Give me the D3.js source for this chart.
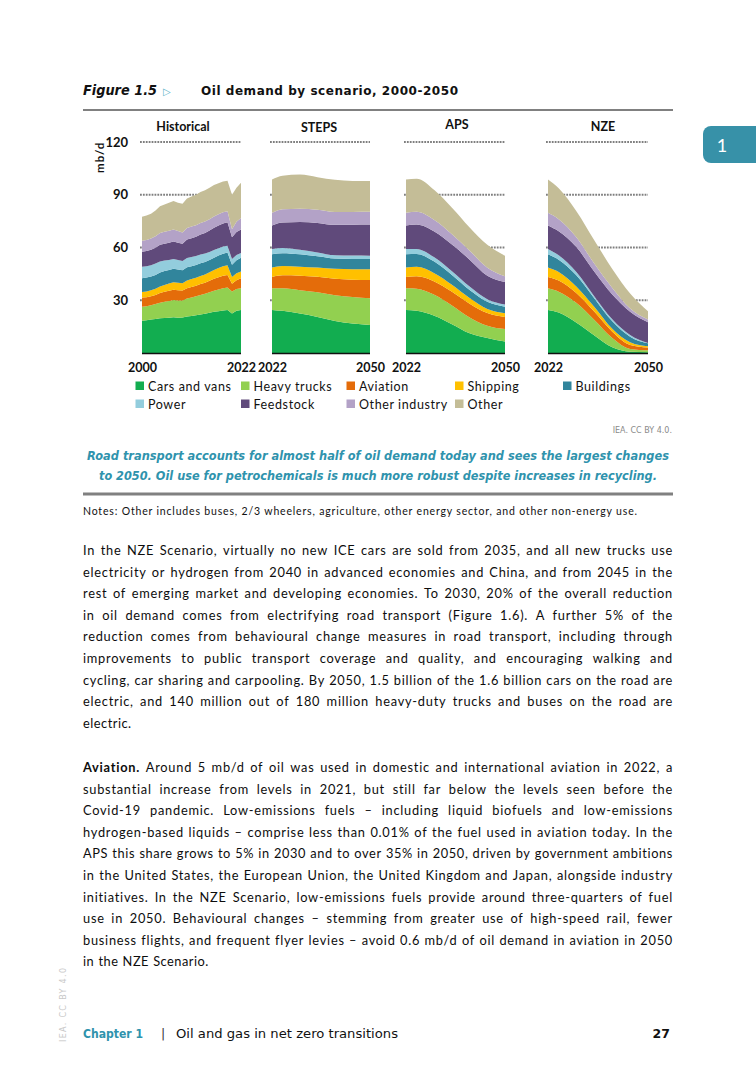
<!DOCTYPE html>
<html>
<head>
<meta charset="utf-8">
<script src="https://cdn.jsdelivr.net/npm/d3@7"></script>
<style>
  body { margin: 0; background: #fff; }
  svg { display: block; }
</style>
</head>
<body>
<svg id="page" width="756" height="1087"></svg>
<script>
// series, bottom to top
const seriesNames = ["Cars and vans", "Heavy trucks", "Aviation", "Shipping", "Buildings",
  "Power", "Feedstock", "Other industry", "Other"];
const seriesColors = ["#12ad50", "#92d050", "#e46c0a", "#ffc000", "#31859c",
  "#93cddd", "#604a7b", "#b3a2c7", "#c4bd97"];

// mb/d, columns: year, then one value per series in the order above
const historical = [
  [2000, 18.4, 7.9, 5.2, 3.2, 7.8, 6.6, 8.5, 6.3, 13.6],
  [2001, 18.6, 8.0, 5.1, 3.3, 7.9, 6.5, 8.6, 6.3, 13.9],
  [2002, 19.0, 8.2, 5.1, 3.4, 7.8, 6.4, 8.8, 6.4, 14.1],
  [2003, 19.3, 8.5, 5.2, 3.5, 7.9, 6.5, 9.0, 6.5, 14.6],
  [2004, 19.7, 8.9, 5.5, 3.7, 8.0, 6.3, 9.4, 6.7, 15.3],
  [2005, 19.9, 9.2, 5.7, 3.9, 7.9, 6.0, 9.6, 6.8, 15.5],
  [2006, 20.1, 9.5, 5.8, 4.1, 7.7, 5.7, 9.8, 6.8, 15.9],
  [2007, 20.3, 9.8, 5.9, 4.3, 7.6, 5.5, 10.0, 6.9, 16.2],
  [2008, 20.0, 9.9, 5.8, 4.3, 7.5, 5.4, 9.8, 6.7, 16.1],
  [2009, 20.2, 9.7, 5.6, 4.1, 7.4, 5.3, 9.9, 6.4, 16.3],
  [2010, 20.8, 10.2, 5.8, 4.4, 7.5, 5.3, 10.5, 6.6, 16.8],
  [2011, 21.1, 10.5, 6.0, 4.5, 7.3, 5.2, 10.7, 6.6, 17.1],
  [2012, 21.5, 10.8, 6.0, 4.5, 7.2, 5.2, 10.9, 6.6, 17.3],
  [2013, 21.9, 11.1, 6.2, 4.6, 7.2, 5.0, 11.4, 6.6, 17.5],
  [2014, 22.3, 11.4, 6.3, 4.7, 7.1, 4.8, 11.7, 6.5, 17.7],
  [2015, 22.9, 11.7, 6.5, 4.8, 7.0, 4.6, 12.1, 6.5, 17.9],
  [2016, 23.4, 12.0, 6.8, 5.0, 7.0, 4.4, 12.6, 6.4, 17.9],
  [2017, 23.8, 12.3, 7.0, 5.2, 7.1, 4.2, 12.9, 6.4, 17.6],
  [2018, 24.2, 12.6, 7.2, 5.4, 7.1, 4.0, 13.2, 6.4, 17.4],
  [2019, 24.5, 12.8, 7.1, 5.5, 7.2, 3.9, 13.3, 6.3, 17.4],
  [2020, 22.5, 12.5, 4.4, 3.8, 7.0, 3.2, 12.4, 4.6, 19.6],
  [2021, 24.0, 12.4, 5.0, 4.0, 7.4, 3.0, 13.0, 5.8, 19.4],
  [2022, 24.5, 12.3, 5.7, 3.9, 7.7, 2.8, 13.3, 6.6, 20.0]
];

const steps = [
  [2022, 24.5, 12.3, 6.4, 5.4, 7.6, 3.0, 13.3, 7.2, 19.0],
  [2025, 24.0, 12.8, 7.4, 5.3, 7.3, 2.9, 14.5, 7.6, 19.0],
  [2030, 22.4, 13.3, 8.3, 5.1, 7.0, 2.6, 15.8, 7.6, 19.4],
  [2035, 20.5, 14.0, 8.8, 5.3, 6.4, 2.2, 16.8, 7.5, 18.5],
  [2040, 18.2, 14.7, 9.3, 5.7, 5.8, 1.9, 17.3, 7.3, 18.3],
  [2045, 16.8, 15.0, 9.9, 6.0, 5.8, 1.9, 17.6, 7.2, 17.6],
  [2050, 15.9, 15.2, 10.4, 6.2, 5.7, 1.9, 17.8, 7.2, 17.5]
];

const aps = [
  [2022, 24.5, 12.3, 6.4, 5.4, 7.6, 3.0, 13.3, 7.2, 19.0],
  [2025, 24.0, 12.6, 7.0, 5.4, 7.3, 2.8, 14.0, 7.2, 18.8],
  [2030, 21.2, 11.9, 7.6, 4.7, 6.6, 2.4, 14.7, 6.6, 17.0],
  [2035, 16.4, 10.6, 7.8, 4.0, 5.6, 2.1, 15.2, 5.9, 15.0],
  [2040, 11.2, 9.0, 7.8, 3.3, 4.6, 1.9, 15.3, 5.1, 13.2],
  [2045, 8.5, 7.0, 7.2, 2.3, 4.1, 1.5, 13.4, 4.5, 13.0],
  [2050, 6.5, 7.1, 6.9, 2.1, 3.7, 1.3, 12.8, 3.2, 11.7]
];

const nze = [
  [2022, 24.5, 12.3, 6.4, 5.4, 7.6, 3.0, 13.3, 7.2, 19.0],
  [2025, 23.0, 11.9, 6.3, 4.9, 7.0, 2.5, 13.6, 6.9, 17.6],
  [2030, 17.2, 11.2, 5.6, 3.7, 6.4, 1.8, 14.2, 5.6, 14.8],
  [2035, 10.0, 8.8, 4.6, 2.8, 4.8, 1.2, 14.0, 4.5, 13.3],
  [2040, 3.2, 5.3, 3.6, 1.7, 4.2, 1.2, 14.1, 3.7, 10.8],
  [2045, 0.7, 1.6, 2.3, 1.5, 3.2, 0.9, 13.3, 1.8, 8.5],
  [2050, 0.4, 1.1, 1.6, 0.7, 1.7, 0.2, 11.8, 1.5, 4.7]
];

const yTicks = [30, 60, 90, 120];

const para1 = [
  "In the NZE Scenario, virtually no new ICE cars are sold from 2035, and all new trucks use",
  "electricity or hydrogen from 2040 in advanced economies and China, and from 2045 in the",
  "rest of emerging market and developing economies. To 2030, 20% of the overall reduction",
  "in oil demand comes from electrifying road transport (Figure 1.6). A further 5% of the",
  "reduction comes from behavioural change measures in road transport, including through",
  "improvements to public transport coverage and quality, and encouraging walking and",
  "cycling, car sharing and carpooling. By 2050, 1.5 billion of the 1.6 billion cars on the road are",
  "electric, and 140 million out of 180 million heavy-duty trucks and buses on the road are",
  "electric."
];
const para2 = [
  "Aviation. Around 5 mb/d of oil was used in domestic and international aviation in 2022, a",
  "substantial increase from levels in 2021, but still far below the levels seen before the",
  "Covid-19 pandemic. Low-emissions fuels – including liquid biofuels and low-emissions",
  "hydrogen-based liquids – comprise less than 0.01% of the fuel used in aviation today. In the",
  "APS this share grows to 5% in 2030 and to over 35% in 2050, driven by government ambitions",
  "in the United States, the European Union, the United Kingdom and Japan, alongside industry",
  "initiatives. In the NZE Scenario, low-emissions fuels provide around three-quarters of fuel",
  "use in 2050. Behavioural changes – stemming from greater use of high-speed rail, fewer",
  "business flights, and frequent flyer levies – avoid 0.6 mb/d of oil demand in aviation in 2050",
  "in the NZE Scenario."
];

const chartFont = "Lato, 'Open Sans', sans-serif";
const headFont = "'DejaVu Sans', Lato, sans-serif";
const teal = "#2f93ad";

const svg = d3.select("#page");
svg.append("rect").attr("width", 756).attr("height", 1087).attr("fill", "#fff");

// ---- heading ----
svg.append("text")
  .attr("x", 83).attr("y", 95)
  .attr("font-family", headFont).attr("font-weight", 700).attr("font-style", "italic")
  .attr("font-size", 13.5).attr("fill", "#111")
  .attr("textLength", 74).attr("lengthAdjust", "spacingAndGlyphs")
  .text("Figure 1.5");
svg.append("text")
  .attr("x", 163).attr("y", 95)
  .attr("font-family", headFont).attr("font-size", 10).attr("fill", "#5fb3c9")
  .text("▷");
svg.append("text")
  .attr("x", 201).attr("y", 95)
  .attr("font-family", headFont).attr("font-weight", 700)
  .attr("font-size", 12).attr("fill", "#111")
  .attr("textLength", 257).attr("lengthAdjust", "spacing")
  .text("Oil demand by scenario, 2000-2050");
svg.append("line")
  .attr("x1", 83).attr("x2", 673).attr("y1", 110).attr("y2", 110)
  .attr("stroke", "#808080").attr("stroke-width", 2);

// ---- chart ----
const y = d3.scaleLinear().domain([0, 120]).range([353, 142]);

const panels = [
  { title: "Historical", rows: historical, x0: 142, x1: 241, titleX: 183, titleY: 131, curve: d3.curveLinear },
  { title: "STEPS", rows: steps, x0: 272, x1: 370, titleX: 319, titleY: 132, curve: d3.curveMonotoneX },
  { title: "APS", rows: aps, x0: 406, x1: 505, titleX: 457, titleY: 129, curve: d3.curveMonotoneX },
  { title: "NZE", rows: nze, x0: 548, x1: 648, titleX: 603, titleY: 131, curve: d3.curveMonotoneX }
];

const stack = d3.stack().keys(d3.range(seriesNames.length));

panels.forEach(p => {
  const years = p.rows.map(r => r[0]);
  const x = d3.scaleLinear().domain(d3.extent(years)).range([p.x0, p.x1]);
  const g = svg.append("g");

  // dotted gridlines
  g.selectAll("line.grid")
    .data(yTicks)
    .join("line")
    .attr("class", "grid")
    .attr("x1", p.x0 - 2).attr("x2", p.x1)
    .attr("y1", d => y(d)).attr("y2", d => y(d))
    .attr("stroke", "#7f7f7f").attr("stroke-width", 2)
    .attr("stroke-dasharray", "1.8,1.1");

  const data = p.rows.map(r => Object.assign({ year: r[0] }, r.slice(1)));
  const layers = stack(data);
  const area = d3.area()
    .curve(p.curve)
    .x(d => x(d.data.year))
    .y0(d => y(d[0]))
    .y1(d => y(d[1]));

  g.selectAll("path.layer")
    .data(layers)
    .join("path")
    .attr("class", "layer")
    .attr("fill", (d, i) => seriesColors[i])
    .attr("d", area);

  // baseline
  g.append("line")
    .attr("x1", p.x0).attr("x2", p.x1)
    .attr("y1", y(0) + 0.5).attr("y2", y(0) + 0.5)
    .attr("stroke", "#111").attr("stroke-width", 1.3);

  // x axis: first and last year only
  const xAxis = d3.axisBottom(x).tickValues(d3.extent(years)).tickFormat(d3.format("d")).tickSize(0).tickPadding(10);
  const ax = g.append("g").attr("transform", `translate(0,${y(0)})`).call(xAxis);
  ax.select(".domain").remove();
  ax.selectAll("text")
    .attr("font-family", chartFont).attr("font-weight", 700)
    .attr("font-size", 12.5).attr("fill", "#111");

  g.append("text")
    .attr("x", p.titleX)
    .attr("y", p.titleY)
    .attr("text-anchor", "middle")
    .attr("font-family", chartFont).attr("font-weight", 700)
    .attr("font-size", 12.5).attr("fill", "#111")
    .text(p.title);
});

// y axis
const yAxis = d3.axisLeft(y).tickValues(yTicks).tickSize(0).tickPadding(0);
const yg = svg.append("g").attr("transform", "translate(128,0)").call(yAxis);
yg.select(".domain").remove();
yg.selectAll("text")
  .attr("font-family", chartFont).attr("font-weight", 700)
  .attr("font-size", 13).attr("fill", "#111");

svg.append("text")
  .attr("transform", "translate(104,173) rotate(-90)")
  .attr("text-anchor", "start")
  .attr("font-family", chartFont).attr("font-weight", 700)
  .attr("font-size", 11.5).attr("letter-spacing", 1).attr("fill", "#111")
  .text("mb/d");

// legend
const legendCols = [135.5, 241, 346.5, 455, 563];
const legend = svg.append("g").selectAll("g")
  .data(seriesNames)
  .join("g")
  .attr("transform", (d, i) => `translate(${legendCols[i % 5]},${i < 5 ? 381.5 : 399.5})`);
legend.append("rect")
  .attr("width", 8.5).attr("height", 8.5)
  .attr("fill", (d, i) => seriesColors[i]);
legend.append("text")
  .attr("x", 12.5).attr("y", 9)
  .attr("font-family", chartFont).attr("font-size", 12.5)
  .attr("letter-spacing", 0.6).attr("fill", "#111")
  .text(d => d);

svg.append("text")
  .attr("x", 672).attr("y", 433).attr("text-anchor", "end")
  .attr("font-family", "'DejaVu Sans', sans-serif").attr("font-size", 8)
  .attr("fill", "#8a8a8a")
  .text("IEA. CC BY 4.0.");

// caption
const captionLines = [
  { t: "Road transport accounts for almost half of oil demand today and sees the largest changes", y: 460, w: 582 },
  { t: "to 2050. Oil use for petrochemicals is much more robust despite increases in recycling.", y: 480, w: 558 }
];
svg.append("g").selectAll("text")
  .data(captionLines)
  .join("text")
  .attr("x", 378).attr("y", d => d.y).attr("text-anchor", "middle")
  .attr("font-family", headFont).attr("font-weight", 700).attr("font-style", "italic")
  .attr("font-size", 12).attr("fill", teal)
  .attr("textLength", d => d.w).attr("lengthAdjust", "spacingAndGlyphs")
  .text(d => d.t);

svg.append("line")
  .attr("x1", 83).attr("x2", 673).attr("y1", 494).attr("y2", 494)
  .attr("stroke", "#808080").attr("stroke-width", 3);

svg.append("text")
  .attr("x", 83).attr("y", 515)
  .attr("font-family", chartFont).attr("font-size", 10.5).attr("fill", "#111")
  .attr("textLength", 554).attr("lengthAdjust", "spacing")
  .text("Notes: Other includes buses, 2/3 wheelers, agriculture, other energy sector, and other non-energy use.");

// ---- body text, justified word by word ----
// every word is its own <text> so nothing is shaped across word boundaries
const bodyLeft = 83, bodyWidth = 590, lineH = 21.6, wordGap = 4.2;
function paragraph(lines, top, boldLead) {
  lines.forEach((line, i) => {
    const words = line.split(" ");
    const last = i === lines.length - 1;
    const g = svg.append("g")
      .attr("font-family", chartFont).attr("font-size", 12.8)
      .attr("fill", "#0d0d0d");
    const nodes = g.selectAll("text")
      .data(words)
      .join("text")
      .attr("y", top + i * lineH)
      .attr("font-weight", (w, j) => boldLead && i === 0 && j === 0 ? 700 : 400)
      .attr("letter-spacing", 0.5)
      .text(w => w);
    const measure = () => nodes.nodes().map(n => n.getComputedTextLength());
    const base = measure();
    const chars = d3.sum(words, w => w.length);
    // spare room goes into letter spacing first (as on the printed page), rest into word gaps
    let ls = last ? 0.5 : 0.5 + (bodyWidth - d3.sum(base) - wordGap * (words.length - 1)) / chars;
    ls = Math.max(0, Math.min(0.75, ls));
    nodes.attr("letter-spacing", ls);
    const widths = measure();
    const gap = last ? wordGap : (bodyWidth - d3.sum(widths)) / (words.length - 1);
    let cx = bodyLeft;
    nodes.each(function (w, j) { d3.select(this).attr("x", cx); cx += widths[j] + gap; });
  });
}
paragraph(para1, 555, false);
paragraph(para2, 772, true);

// ---- side tab ----
svg.append("rect")
  .attr("x", 703).attr("y", 126).attr("width", 70).attr("height", 37).attr("rx", 8)
  .attr("fill", "#3791a8");
svg.append("text")
  .attr("x", 722).attr("y", 152).attr("text-anchor", "middle")
  .attr("font-family", chartFont).attr("font-size", 18).attr("fill", "#fff")
  .text("1");

// ---- footer ----
svg.append("text")
  .attr("transform", "translate(66,1042) rotate(-90)")
  .attr("font-family", headFont).attr("font-size", 8).attr("fill", "#c8c8c8")
  .attr("textLength", 74).attr("lengthAdjust", "spacing")
  .text("IEA. CC BY 4.0");
svg.append("text")
  .attr("x", 83).attr("y", 1038)
  .attr("font-family", headFont).attr("font-weight", 700)
  .attr("font-size", 12.5).attr("fill", teal)
  .attr("textLength", 60).attr("lengthAdjust", "spacingAndGlyphs")
  .text("Chapter 1");
svg.append("text")
  .attr("x", 161).attr("y", 1038)
  .attr("font-family", headFont).attr("font-size", 12.5).attr("fill", "#333")
  .text("|");
svg.append("text")
  .attr("x", 176).attr("y", 1038)
  .attr("font-family", headFont).attr("font-size", 12.5).attr("fill", "#111")
  .attr("textLength", 222).attr("lengthAdjust", "spacingAndGlyphs")
  .text("Oil and gas in net zero transitions");
svg.append("text")
  .attr("x", 670).attr("y", 1038).attr("text-anchor", "end")
  .attr("font-family", headFont).attr("font-weight", 700)
  .attr("font-size", 12.5).attr("fill", "#111")
  .text("27");
</script>
</body>
</html>
